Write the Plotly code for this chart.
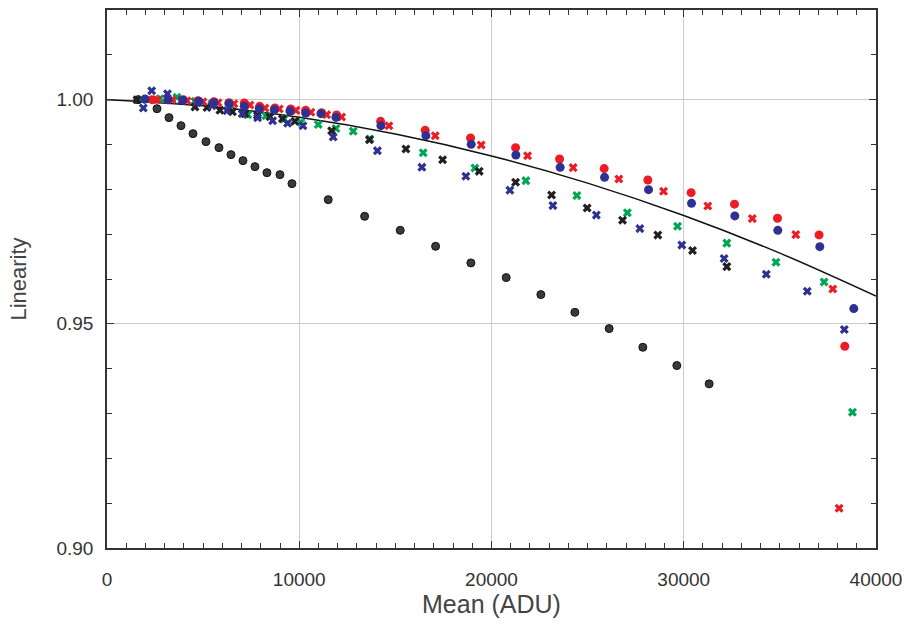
import plotly.graph_objects as go

# ---------------- data ----------------
black_circ_x = [1612, 2600, 3224, 3848, 4472, 5148, 5824, 6448, 7072, 7696, 8320, 8996, 9620,
                11508, 13400, 15252, 17092, 18928, 20764, 22568, 24336, 26120, 27872, 29640, 31320]
black_circ_y = [1.0000, 0.99799, 0.99599, 0.99420, 0.99242, 0.99064, 0.98930, 0.98774, 0.98640,
                0.98506, 0.98372, 0.98328, 0.98127, 0.97770, 0.97398, 0.97086, 0.96729, 0.96359,
                0.96031, 0.95652, 0.95257, 0.94894, 0.94477, 0.94069, 0.93661]

red_circ_x = [2340, 3172, 3968, 4732, 5564, 6344, 7140, 7940, 8736, 9552, 10332, 11164, 11944,
              14232, 16552, 18912, 21252, 23540, 25860, 28132, 30384, 32640, 34876, 37040, 38376]
red_circ_y = [1.0000, 1.0000, 1.0000, 0.99978, 0.99955, 0.99933, 0.99926, 0.99851, 0.99815,
              0.99792, 0.99762, 0.99710, 0.99658, 0.99516, 0.99316, 0.99145, 0.98930, 0.98677,
              0.98462, 0.98209, 0.97926, 0.97670, 0.97354, 0.96983, 0.94501]

blue_circ_x = [1976, 3172, 3952, 4784, 5564, 6344, 7140, 7920, 8700, 9516, 10332, 11128, 11908,
               14248, 16588, 18944, 21268, 23572, 25880, 28168, 30404, 32656, 34892, 37076, 38844]
blue_circ_y = [1.00016, 1.0000, 0.99989, 0.99962, 0.99933, 0.99911, 0.99851, 0.99799, 0.99777,
               0.99748, 0.99703, 0.99688, 0.99605, 0.99420, 0.99197, 0.99003, 0.98767, 0.98491,
               0.98268, 0.97993, 0.97688, 0.97407, 0.97086, 0.96722, 0.95340]

red_x_x = [2600, 3380, 4160, 4992, 5772, 6604, 7436, 8216, 8960, 9828, 10608, 11424, 12204,
           14664, 17072, 19464, 21876, 24248, 26624, 28948, 31252, 33566, 35828, 37752, 38080]
red_x_y = [1.0000, 1.0000, 0.99978, 0.99955, 0.99933, 0.99911, 0.99882, 0.99815, 0.99793,
           0.99761, 0.99717, 0.99666, 0.99614, 0.99420, 0.99197, 0.98990, 0.98751, 0.98484,
           0.98232, 0.97955, 0.97630, 0.97347, 0.96990, 0.95779, 0.90888]

blue_x_x = [1888, 2324, 3146, 3900, 4680, 5460, 6240, 7036, 7836, 8616, 9396, 10192, 11768,
            14066, 16380, 18668, 20956, 23192, 25454, 27716, 29900, 32100, 34294, 36426, 38350]
blue_x_y = [0.99815, 1.00201, 1.00134, 0.99984, 0.99933, 0.99866, 0.99755, 0.99688, 0.99599,
            0.99532, 0.99476, 0.99420, 0.99168, 0.98863, 0.98495, 0.98294, 0.97982, 0.97637,
            0.97425, 0.97124, 0.96756, 0.96455, 0.96105, 0.95726, 0.94872]

black_x_x = [1560, 4576, 5200, 5876, 6526, 7176, 7826, 8476, 9126, 9776, 11684, 13650, 15548,
             17456, 19360, 21252, 23124, 24976, 26816, 28652, 30456, 32240]
black_x_y = [1.0000, 0.99837, 0.99828, 0.99766, 0.99732, 0.99688, 0.99654, 0.99621, 0.99576,
             0.99520, 0.99309, 0.99108, 0.98901, 0.98662, 0.98401, 0.98156, 0.97875, 0.97585,
             0.97309, 0.96979, 0.96638, 0.96276]

green_x_x = [1820, 2756, 3640, 4576, 5460, 6396, 7316, 8268, 9204, 10088, 10988, 11908, 12808,
             13676, 16448, 19136, 21788, 24440, 27066, 29676, 32240, 34798, 37300, 38776]
green_x_y = [1.0000, 1.00022, 1.00056, 0.99967, 0.99911, 0.99777, 0.99666, 0.99643, 0.99570,
             0.99498, 0.99447, 0.99358, 0.99298, 0.99124, 0.98818, 0.98477, 0.98194, 0.97860,
             0.97480, 0.97175, 0.96800, 0.96372, 0.95935, 0.93028]

fit_x = [0, 5000, 10000, 15000, 20000, 25000, 30000, 35000, 40000]
fit_y = [1.0000, 0.99862, 0.99606, 0.99234, 0.98745, 0.98139, 0.97416, 0.96576, 0.95619]

x_ticks = [0, 10000, 20000, 30000, 40000]
x_tick_labels = ["0", "10000", "20000", "30000", "40000"]
y_ticks = [0.90, 0.95, 1.00]
y_tick_labels = ["0.90", "0.95", "1.00"]

# ---------------- styles ----------------
RED = "#ed1c24"
BLUE = "#2e3192"
GREEN = "#00a651"
BLACK = "#231f20"
FONT = "Liberation Sans, Arial, sans-serif"

fig = go.Figure()

fig.add_trace(go.Scatter(x=fit_x, y=fit_y, mode="lines", line=dict(color="#111111", width=1.5, shape="spline"),
                         hoverinfo="skip"))

fig.add_trace(go.Scatter(x=black_circ_x, y=black_circ_y, mode="markers",
                         marker=dict(symbol="circle", size=8, color="#3a3a3a", line=dict(color="#111111", width=1))))
fig.add_trace(go.Scatter(x=green_x_x, y=green_x_y, mode="markers",
                         marker=dict(symbol="x", size=8, color=GREEN)))
fig.add_trace(go.Scatter(x=black_x_x, y=black_x_y, mode="markers",
                         marker=dict(symbol="x", size=8, color=BLACK)))
fig.add_trace(go.Scatter(x=red_x_x, y=red_x_y, mode="markers",
                         marker=dict(symbol="x", size=8, color=RED)))
fig.add_trace(go.Scatter(x=blue_x_x, y=blue_x_y, mode="markers",
                         marker=dict(symbol="x", size=8, color=BLUE)))
fig.add_trace(go.Scatter(x=red_circ_x, y=red_circ_y, mode="markers",
                         marker=dict(symbol="circle", size=9, color=RED)))
fig.add_trace(go.Scatter(x=blue_circ_x, y=blue_circ_y, mode="markers",
                         marker=dict(symbol="circle", size=9, color=BLUE)))

axis_common = dict(
    showline=True, linecolor="#333333", linewidth=1.5, mirror="allticks",
    ticks="inside", ticklen=7, tickwidth=1.2, tickcolor="#333333",
    showgrid=True, gridcolor="#cccccc", gridwidth=1.2, zeroline=False,
    automargin=False,
    tickfont=dict(family=FONT, size=19, color="#333333"),
)

fig.update_xaxes(
    range=[0, 40000], tickmode="array", tickvals=x_ticks, ticktext=x_tick_labels,
    minor=dict(dtick=1000, ticks="inside", ticklen=5, tickwidth=1.1, tickcolor="#333333", showgrid=False),
    title=dict(text="Mean (ADU)", font=dict(family=FONT, size=25, color="#444444"), standoff=5),
    ticklabelstandoff=13,
    **axis_common,
)
fig.update_yaxes(
    range=[0.90, 1.02], tickmode="array", tickvals=y_ticks, ticktext=y_tick_labels,
    minor=dict(dtick=0.01, tick0=0.90, ticks="inside", ticklen=5, tickwidth=1.1, tickcolor="#333333", showgrid=False),
    title=dict(text="Linearity", font=dict(family=FONT, size=22, color="#444444"), standoff=24),
    ticklabelstandoff=8,
    **axis_common,
)

fig.update_layout(
    width=907, height=633,
    margin=dict(l=107, r=31, t=10, b=85),
    paper_bgcolor="white", plot_bgcolor="white",
    showlegend=False,
)

fig.write_html("out.html", config={"displayModeBar": False},
               post_script="document.body.style.margin='0';document.body.style.overflow='hidden';")
